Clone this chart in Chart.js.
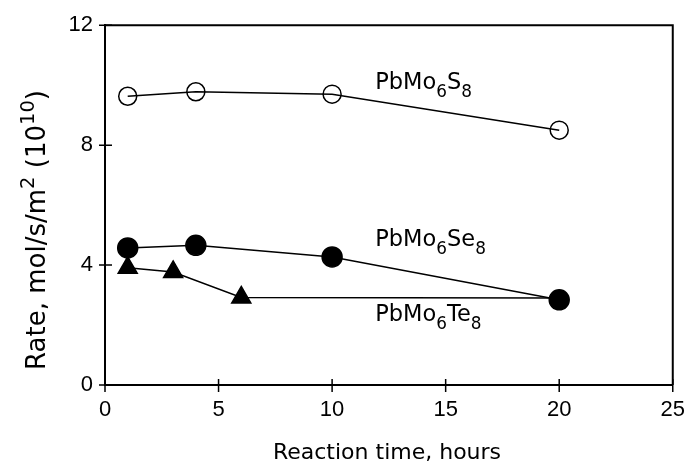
<!DOCTYPE html>
<html>
<head>
<meta charset="utf-8">
<script src="https://cdn.jsdelivr.net/npm/chart.js@4/dist/chart.umd.min.js"></script>
<style>
  body { margin: 0; background: #fff; }
  #wrap { width: 697px; height: 464px; }
</style>
</head>
<body>
<div id="wrap"><canvas id="rate-chart"></canvas></div>
<script>
// values
const timeS = [1, 4, 10, 20];
const rateS = [9.63, 9.78, 9.7, 8.5];
const timeSe = [1, 4, 10, 20];
const rateSe = [4.57, 4.66, 4.27, 2.84];
const timeTe = [1, 3, 6, 20];
const rateTe = [3.91, 3.77, 2.92, 2.9];

// compound labels, "_" = subscript
const labelParts = [
  ["PbMo", "_6", "S", "_8"],
  ["PbMo", "_6", "Se", "_8"],
  ["PbMo", "_6", "Te", "_8"]
];
const labelX = [11.9, 11.9, 11.9];
const labelY = [9.88, 4.63, 2.15];

const xTitle = "Reaction time, hours";
const yTitleParts = ["Rate, mol/s/m", "^2", " (10", "^10", ")"];

const FONT = '"Liberation Sans", Arial, sans-serif';
const TEXT_FONT = '"DejaVu Sans", sans-serif';

function toPoints(xs, ys) {
  return xs.map((x, i) => ({ x: x, y: ys[i] }));
}

function richWidth(ctx, parts, size) {
  let w = 0;
  parts.forEach(p => {
    const small = p[0] === "_" || p[0] === "^";
    ctx.font = (small ? size * 0.75 : size) + "px " + TEXT_FONT;
    w += ctx.measureText(small ? p.slice(1) : p).width;
  });
  return w;
}

function drawRich(ctx, parts, x, y, size) {
  parts.forEach(p => {
    let t = p, dy = 0, fs = size;
    if (p[0] === "_") { t = p.slice(1); dy = size * 0.36; fs = size * 0.75; }
    if (p[0] === "^") { t = p.slice(1); dy = -size * 0.42; fs = size * 0.75; }
    ctx.font = fs + "px " + TEXT_FONT;
    ctx.fillText(t, x, y + dy);
    x += ctx.measureText(t).width;
  });
}

const decorations = {
  id: "decorations",
  afterDraw(chart) {
    const ctx = chart.ctx;
    const a = chart.chartArea;
    const xs = chart.scales.x, ys = chart.scales.y;
    ctx.save();
    ctx.strokeStyle = "#000";
    ctx.fillStyle = "#000";

    // top and right frame
    ctx.lineWidth = 2;
    ctx.beginPath();
    ctx.moveTo(a.left, a.top);
    ctx.lineTo(a.right, a.top);
    ctx.lineTo(a.right, a.bottom);
    ctx.stroke();

    // ticks crossing the axes
    ctx.lineWidth = 1.5;
    ctx.beginPath();
    xs.ticks.forEach(t => {
      const px = xs.getPixelForValue(t.value);
      ctx.moveTo(px, a.bottom - 6);
      ctx.lineTo(px, a.bottom + 7);
    });
    ys.ticks.forEach(t => {
      const py = ys.getPixelForValue(t.value);
      ctx.moveTo(a.left - 6, py);
      ctx.lineTo(a.left + 7, py);
    });
    ctx.stroke();

    // compound labels
    ctx.textBaseline = "alphabetic";
    ctx.textAlign = "left";
    labelParts.forEach((parts, i) => {
      drawRich(ctx, parts, xs.getPixelForValue(labelX[i]), ys.getPixelForValue(labelY[i]), 22.5);
    });

    // x title
    ctx.font = "22px " + TEXT_FONT;
    ctx.textAlign = "center";
    ctx.fillText(xTitle, 387, 459);

    // y title, rotated
    ctx.textAlign = "left";
    ctx.translate(45, 230);
    ctx.rotate(-Math.PI / 2);
    const w = richWidth(ctx, yTitleParts, 26);
    drawRich(ctx, yTitleParts, -w / 2, 0, 26);
    ctx.restore();
  }
};

const ctx = document.getElementById("rate-chart").getContext("2d");

const lineStyle = {
  borderColor: "#000",
  borderWidth: 1.5,
  pointBorderColor: "#000",
  pointBorderWidth: 1.5,
  showLine: true,
  tension: 0
};

new Chart(ctx, {
  type: "scatter",
  data: {
    datasets: [
      Object.assign({
        label: "PbMo6S8",
        data: toPoints(timeS, rateS),
        pointStyle: "circle",
        pointRadius: 9,
        pointBackgroundColor: "rgba(0,0,0,0)"
      }, lineStyle),
      Object.assign({
        label: "PbMo6Se8",
        data: toPoints(timeSe, rateSe),
        pointStyle: "circle",
        pointRadius: 10,
        pointBackgroundColor: "#000"
      }, lineStyle),
      Object.assign({
        label: "PbMo6Te8",
        data: toPoints(timeTe, rateTe),
        pointStyle: "triangle",
        // last triangle sits under the Se circle
        pointRadius: [11, 11, 11, 7],
        pointBackgroundColor: "#000"
      }, lineStyle)
    ]
  },
  options: {
    responsive: true,
    maintainAspectRatio: false,
    animation: false,
    layout: { padding: { top: 22, right: 21, left: 0, bottom: 0 } },
    plugins: {
      legend: { display: false },
      tooltip: { enabled: false }
    },
    scales: {
      x: {
        type: "linear",
        min: 0,
        max: 25,
        ticks: {
          stepSize: 5,
          color: "#000",
          padding: 12,
          font: { family: FONT, size: 22 }
        },
        grid: { display: false, drawTicks: false },
        border: { color: "#000", width: 2 },
        afterFit(scale) { scale.height = 79; }
      },
      y: {
        min: 0,
        max: 12,
        ticks: {
          stepSize: 4,
          color: "#000",
          padding: 12,
          font: { family: FONT, size: 22 }
        },
        grid: { display: false, drawTicks: false },
        border: { color: "#000", width: 2 },
        afterFit(scale) { scale.width = 105; }
      }
    }
  },
  plugins: [decorations]
});
</script>
</body>
</html>
